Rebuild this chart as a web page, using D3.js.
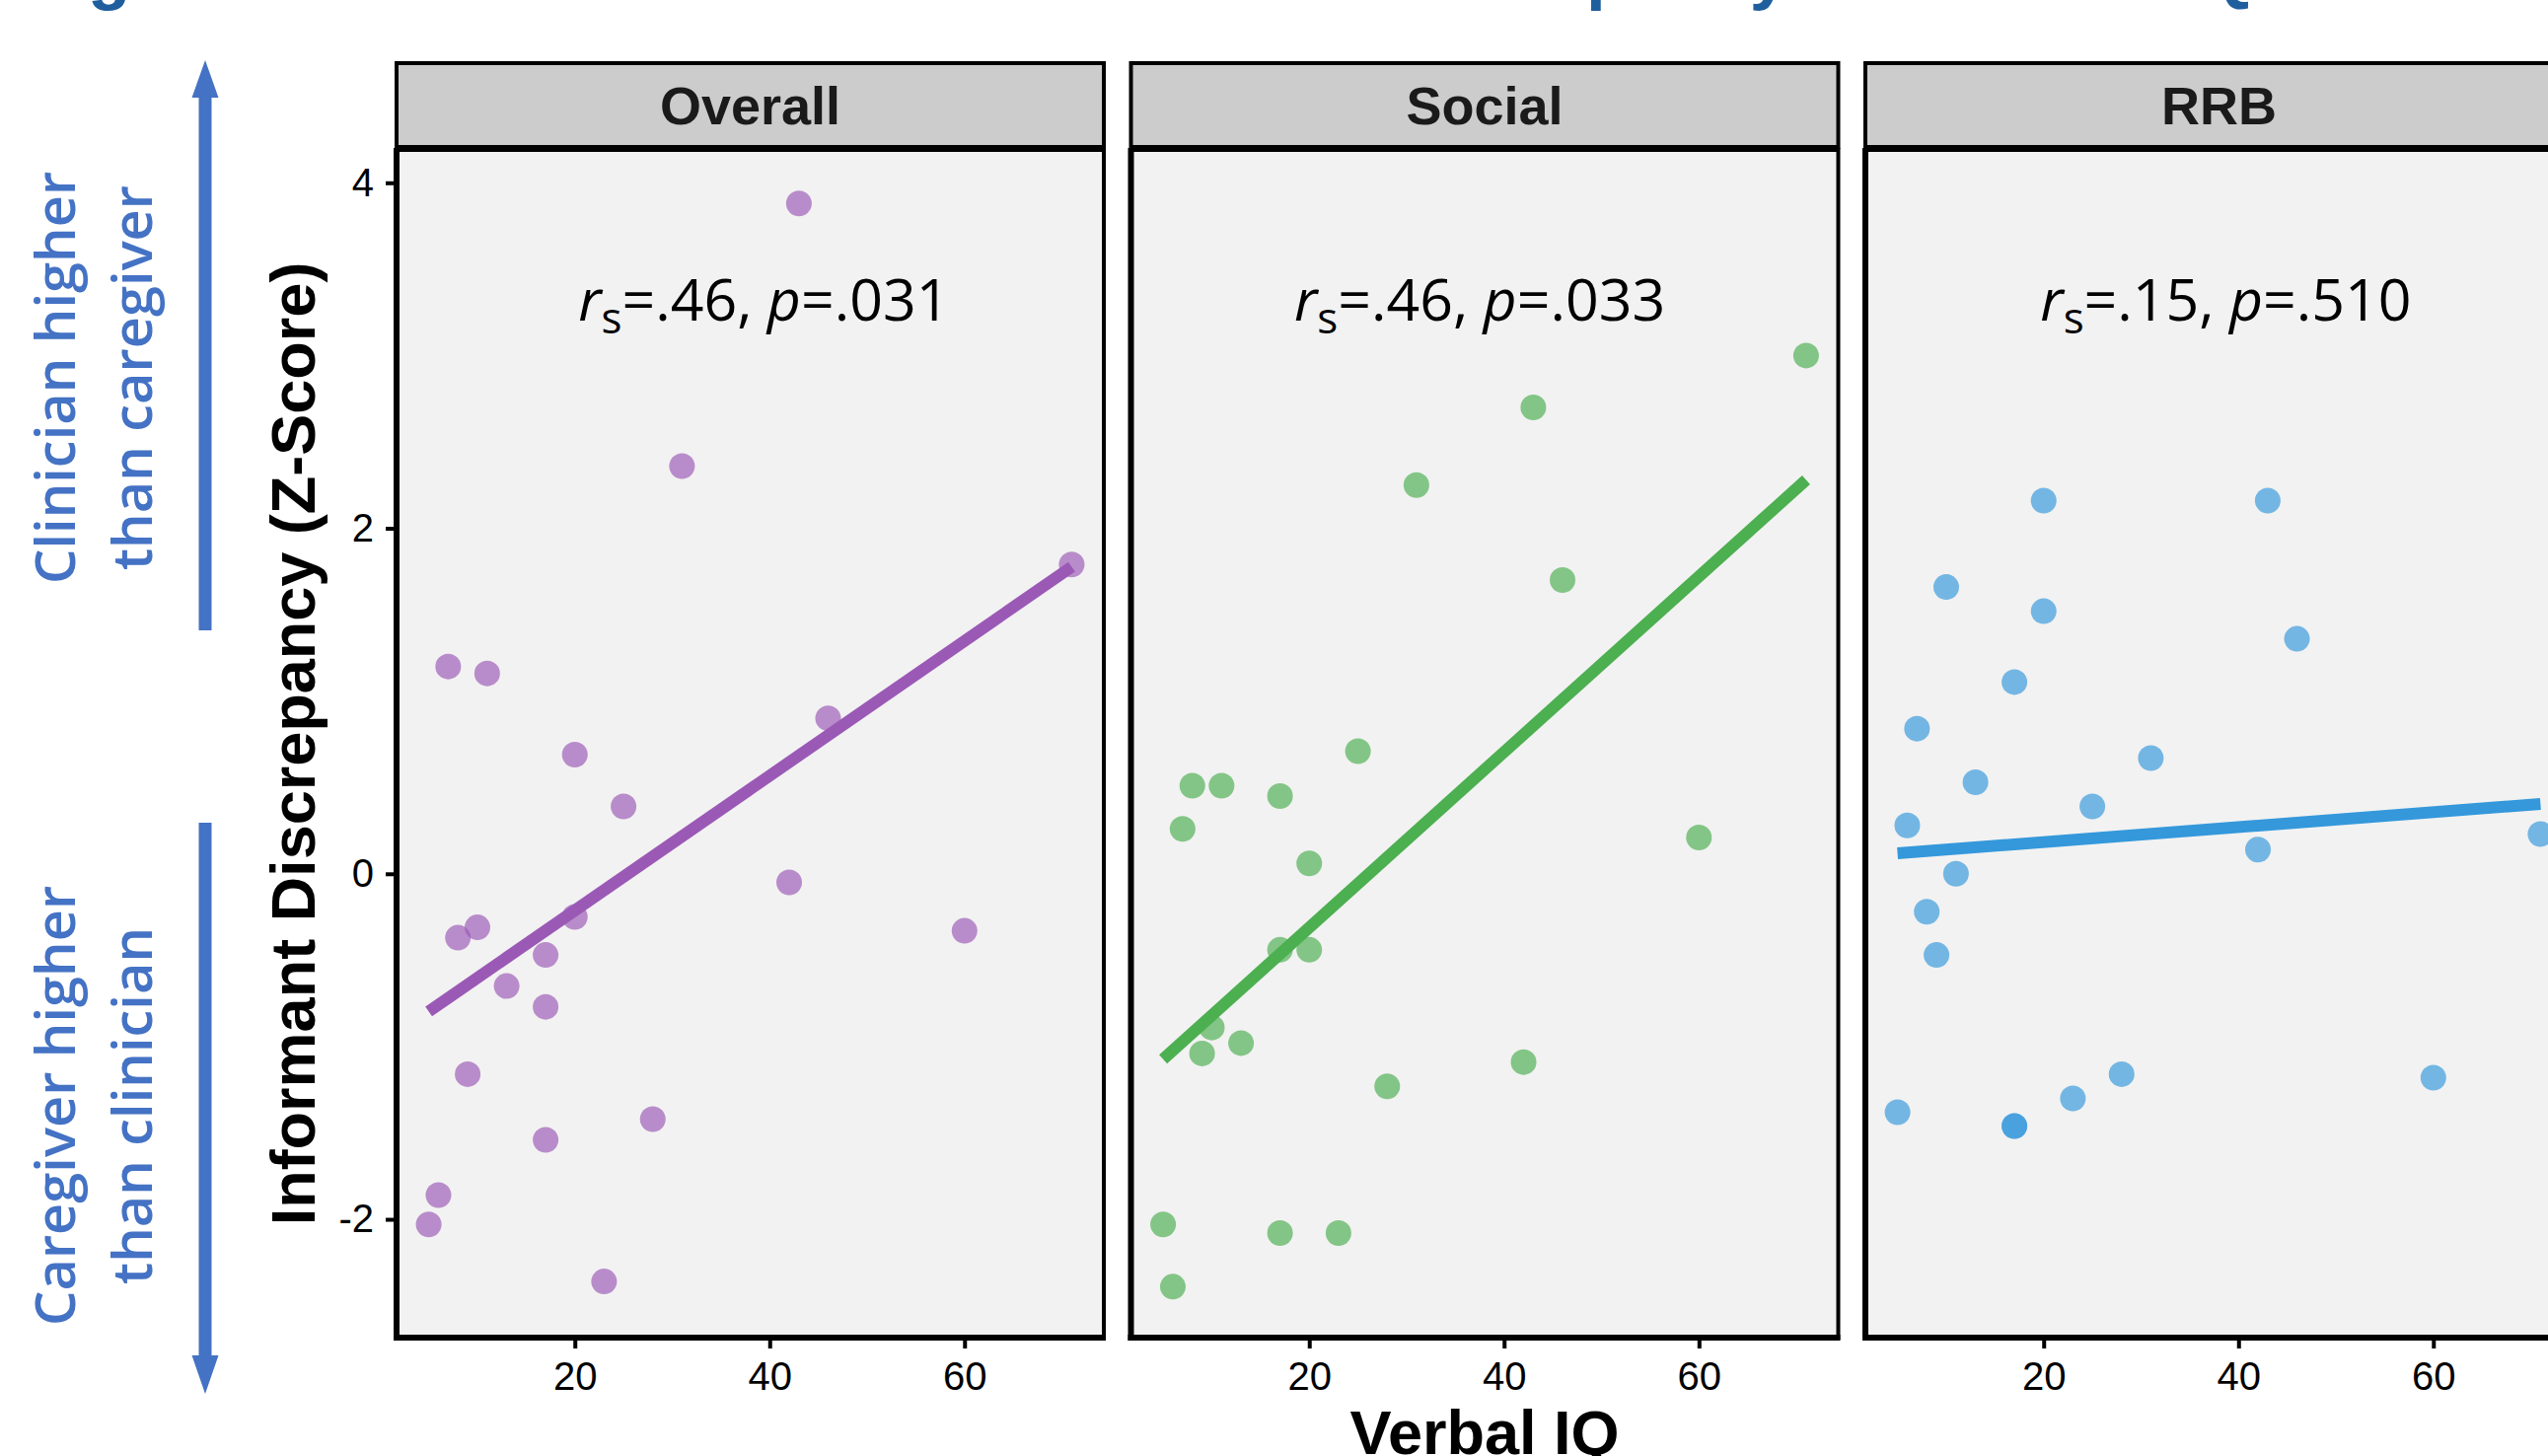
<!DOCTYPE html>
<html>
<head>
<meta charset="utf-8">
<script src="https://cdn.jsdelivr.net/npm/d3@7"></script>
<style>
  body { margin: 0; background: #fff; }
  svg { display: block; }
</style>
</head>
<body>
<svg id="chart"></svg>
<script>
// facets
const panels = ["Overall", "Social", "RRB"];

// verbal IQ / discrepancy z-score
const overallIQ = [43, 31, 71, 7, 11, 46, 20, 25, 42, 20, 60, 10, 8, 17, 13, 17, 9, 28, 17, 6, 5, 23];
const overallZ  = [3.88, 2.36, 1.79, 1.20, 1.16, 0.90, 0.69, 0.39, -0.05, -0.25, -0.33, -0.31, -0.37, -0.47, -0.65, -0.77, -1.16, -1.42, -1.54, -1.86, -2.03, -2.36];

const socialIQ = [71, 43, 31, 46, 25, 8, 11, 17, 7, 60, 20, 17, 20, 10, 13, 9, 42, 28, 5, 17, 23, 6];
const socialZ  = [3.00, 2.70, 2.25, 1.70, 0.71, 0.51, 0.51, 0.45, 0.26, 0.21, 0.06, -0.44, -0.44, -0.89, -0.98, -1.04, -1.09, -1.23, -2.03, -2.08, -2.08, -2.39];

const rrbIQ = [20, 43, 10, 20, 46, 17, 7, 31, 13, 25, 6, 71, 42, 11, 8, 9, 28, 60, 23, 5, 17, 17];
const rrbZ  = [2.16, 2.16, 1.66, 1.52, 1.36, 1.11, 0.84, 0.67, 0.53, 0.39, 0.28, 0.23, 0.14, 0.00, -0.22, -0.47, -1.16, -1.18, -1.30, -1.38, -1.46, -1.46];

// spearman stats printed in each facet
const statR = [".46", ".46", ".15"];
const statP = [".031", ".033", ".510"];

const xTicks = [20, 40, 60];
const yTicks = [-2, 0, 2, 4];

const colors = ["#9b59b6", "#4caf50", "#3498db"];

const seriesIQ = [overallIQ, socialIQ, rrbIQ];
const seriesZ = [overallZ, socialZ, rrbZ];

// where the stat label sits (data units)
const labelX = [39.4, 37.5, 38.7];
const labelY = 3.2;

var w = 2583;
var h = 1476;

var panelLeft = 402;
var panelStep = 744.5;
var panelW = 717;
var panelTop = 152;
var panelBottom = 1356;
var stripTop = 64;
var stripBottom = 149;

var svg = d3.select("#chart")
    .attr("width", w)
    .attr("height", h)
    .style("font-family", "'Liberation Sans', Arial, sans-serif");

var xScale = d3.scaleLinear()
    .domain([1.7, 74.3])
    .range([0, panelW]);

var yScale = d3.scaleLinear()
    .domain([-2.685, 4.19])
    .range([panelBottom, panelTop]);

// title, mostly cropped off the top of the figure
svg.append("text")
    .attr("x", 26)
    .attr("y", -4)
    .attr("fill", "#1f5f9e")
    .style("font-size", "71px")
    .style("font-weight", "bold")
    .text("Figure 2. Correlation between Informant Discrepancy and Verbal IQ");

// least squares fit, like geom_smooth(method = "lm")
function fitLine(xs, ys) {
    let mx = d3.mean(xs), my = d3.mean(ys);
    let sxy = d3.sum(xs, (x, i) => (x - mx) * (ys[i] - my));
    let sxx = d3.sum(xs, x => (x - mx) * (x - mx));
    let b = sxy / sxx;
    let a = my - b * mx;
    let x0 = d3.min(xs), x1 = d3.max(xs);
    return [[x0, a + b * x0], [x1, a + b * x1]];
}

panels.forEach((name, p) => {
    let g = svg.append("g")
        .attr("transform", `translate(${panelLeft + p * panelStep},0)`);

    // strip
    g.append("rect")
        .attr("x", 0)
        .attr("y", stripTop)
        .attr("width", panelW)
        .attr("height", stripBottom - stripTop)
        .attr("fill", "#cccccc")
        .attr("stroke", "#000")
        .attr("stroke-width", 4);

    g.append("text")
        .attr("x", panelW / 2)
        .attr("y", (stripTop + stripBottom) / 2)
        .attr("dy", "0.36em")
        .attr("text-anchor", "middle")
        .attr("fill", "#1a1a1a")
        .style("font-size", "54px")
        .style("font-weight", "bold")
        .text(name);

    // panel background
    g.append("rect")
        .attr("x", 0)
        .attr("y", panelTop)
        .attr("width", panelW)
        .attr("height", panelBottom - panelTop)
        .attr("fill", "#f2f2f2")
        .attr("stroke", "#000")
        .attr("stroke-width", 4);

    // points
    g.append("g")
        .selectAll("circle")
        .data(seriesIQ[p].map((x, i) => [x, seriesZ[p][i]]))
        .join("circle")
            .attr("cx", d => xScale(d[0]))
            .attr("cy", d => yScale(d[1]))
            .attr("r", 13)
            .attr("fill", colors[p])
            .attr("fill-opacity", 0.67);

    // regression line
    let fit = fitLine(seriesIQ[p], seriesZ[p]);
    g.append("path")
        .attr("d", d3.line().x(d => xScale(d[0])).y(d => yScale(d[1]))(fit))
        .attr("fill", "none")
        .attr("stroke", colors[p])
        .attr("stroke-width", 12);

    // stat label
    let lab = g.append("text")
        .attr("x", xScale(labelX[p]))
        .attr("y", yScale(labelY))
        .attr("text-anchor", "middle")
        .attr("fill", "#000")
        .style("font-family", "'Open Sans', sans-serif")
        .style("font-size", "59px");
    lab.append("tspan").style("font-style", "italic").text("r");
    lab.append("tspan").attr("dy", 13).style("font-size", "44px").text("s");
    lab.append("tspan").attr("dy", -13).text(`=${statR[p]}, `);
    lab.append("tspan").style("font-style", "italic").text("p");
    lab.append("tspan").text(`=${statP[p]}`);

    // x axis
    let xAxis = g.append("g")
        .attr("transform", `translate(0,${panelBottom})`)
        .call(d3.axisBottom(xScale).tickValues(xTicks).tickFormat(d => String(d)).tickSize(11).tickPadding(14).tickSizeOuter(0))
        .call(a => a.select(".domain").attr("stroke-width", 6).attr("d", `M-3,0H${panelW + 2}`));
    xAxis.selectAll(".tick line").attr("stroke-width", 4);
    xAxis.selectAll(".tick text")
        .attr("fill", "#000")
        .style("font-size", "40px")
        .style("font-family", "'Liberation Sans', Arial, sans-serif");

    // y axis only on the first facet
    if (p === 0) {
        let yAxis = g.append("g")
            .call(d3.axisLeft(yScale).tickValues(yTicks).tickFormat(d => String(d)).tickSize(11).tickPadding(12).tickSizeOuter(0))
            .call(a => a.select(".domain").attr("stroke-width", 6).attr("d", `M0,${panelTop - 2}V${panelBottom + 3}`));
        yAxis.selectAll(".tick line").attr("stroke-width", 4);
        yAxis.selectAll(".tick text")
            .attr("fill", "#000")
            .style("font-size", "40px")
            .style("font-family", "'Liberation Sans', Arial, sans-serif");
    } else {
        g.append("line")
            .attr("x1", 0).attr("x2", 0)
            .attr("y1", panelTop - 2).attr("y2", panelBottom + 3)
            .attr("stroke", "#000")
            .attr("stroke-width", 6);
    }
});

// axis titles
svg.append("text")
    .attr("x", panelLeft + panelStep + panelW / 2)
    .attr("y", 1474)
    .attr("text-anchor", "middle")
    .style("font-size", "63px")
    .style("font-weight", "bold")
    .text("Verbal IQ");

svg.append("text")
    .attr("transform", `translate(319,${(panelTop + panelBottom) / 2}) rotate(-90)`)
    .attr("text-anchor", "middle")
    .style("font-size", "63px")
    .style("font-weight", "bold")
    .text("Informant Discrepancy (Z-Score)");

// direction notes on the far left
var blue = "#4472c4";
var notes = [
    { lines: ["Clinician higher", "than caregiver"], cy: 383 },
    { lines: ["Caregiver higher", "than clinician"], cy: 1121 }
];
notes.forEach(n => {
    n.lines.forEach((t, i) => {
        svg.append("text")
            .attr("transform", `translate(${76 + i * 78},${n.cy}) rotate(-90)`)
            .attr("text-anchor", "middle")
            .attr("fill", blue)
            .style("font-family", "'Open Sans', sans-serif")
            .style("font-weight", 600)
            .style("font-size", "56px")
            .text(t);
    });
});

// arrows
var arrowX = 208;
svg.append("path")
    .attr("d", `M${arrowX - 6.5},639V99H${arrowX - 13.5}L${arrowX},61L${arrowX + 13.5},99H${arrowX + 6.5}V639Z`)
    .attr("fill", blue);
svg.append("path")
    .attr("d", `M${arrowX - 6.5},834V1374H${arrowX - 13.5}L${arrowX},1413L${arrowX + 13.5},1374H${arrowX + 6.5}V834Z`)
    .attr("fill", blue);
</script>
</body>
</html>
